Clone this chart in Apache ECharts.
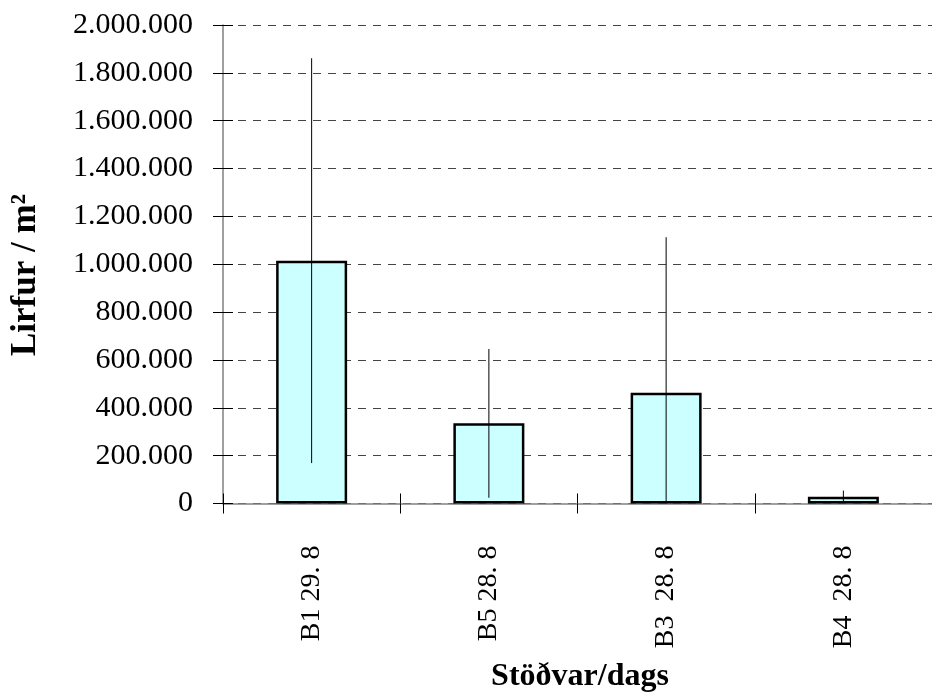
<!DOCTYPE html>
<html>
<head>
<meta charset="utf-8">
<script src="https://cdn.jsdelivr.net/npm/echarts@6/dist/echarts.min.js"></script>
<style>
html,body{margin:0;padding:0;background:#fff;}
#chart{width:932px;height:696px;}
</style>
</head>
<body>
<div id="chart"></div>
<script>
const categories = ['B1 29. 8', 'B5 28. 8', 'B3  28. 8', 'B4  28. 8'];
const values = [1015000, 335000, 463000, 28000];
const errors = [846000, 311000, 650000, 26000];
const yMin = 0, yMax = 2000000, yStep = 200000;
const xTitle = 'Stöðvar/dags';
const yTitle = 'Lirfur / m²';

const FONT = "'Liberation Serif', 'Times New Roman', serif";

function fmt(v) {
  return String(Math.round(v)).replace(/\B(?=(\d{3})+(?!\d))/g, '.');
}

const errData = categories.map((c, i) => [i, Math.max(0, values[i] - errors[i]), values[i] + errors[i]]);

const chart = echarts.init(document.getElementById('chart'), null, {renderer: 'canvas'});
const option = {
  backgroundColor: '#fff',
  animation: false,
  grid: {left: 223, top: 25, width: 714, height: 478.5, containLabel: false},
  xAxis: [{
    type: 'category',
    data: categories,
    position: 'bottom',
    axisLine: {show: true, lineStyle: {color: '#808080', width: 1.5}},
    axisTick: {show: true, inside: false, length: 10, lineStyle: {color: '#000', width: 1}},
    axisLabel: {rotate: 90, margin: 42, fontFamily: FONT, fontSize: 28, color: '#000'},
    splitLine: {show: false}
  }, {
    type: 'category',
    data: categories,
    position: 'bottom',
    axisLine: {show: false},
    axisTick: {show: true, inside: true, length: 10, lineStyle: {color: '#000', width: 1}},
    axisLabel: {show: false},
    splitLine: {show: false}
  }],
  yAxis: [{
    type: 'value',
    min: yMin, max: yMax, interval: yStep,
    position: 'left',
    axisLine: {show: true, lineStyle: {color: '#808080', width: 1.5}},
    axisTick: {show: true, inside: false, length: 10, lineStyle: {color: '#000', width: 1}},
    axisLabel: {margin: 30, fontFamily: FONT, fontSize: 30, color: '#000', formatter: fmt},
    splitLine: {show: true, lineStyle: {color: '#444', width: 1, type: [8, 7]}}
  }, {
    type: 'value',
    min: yMin, max: yMax, interval: yStep,
    position: 'left',
    axisLine: {show: false},
    axisTick: {show: true, inside: true, length: 10, lineStyle: {color: '#000', width: 1}},
    axisLabel: {show: false},
    splitLine: {show: false}
  }],
  graphic: [{
    type: 'text',
    x: 26, y: 275,
    rotation: Math.PI / 2,
    style: {text: yTitle, font: "bold 35px " + FONT, fill: '#000', textAlign: 'center', textVerticalAlign: 'middle'}
  }, {
    type: 'text',
    x: 580, y: 677,
    style: {text: xTitle, font: "bold 32px " + FONT, fill: '#000', textAlign: 'center', textVerticalAlign: 'middle'}
  }],
  series: [{
    type: 'bar',
    data: values,
    barWidth: 71,
    itemStyle: {color: '#CCFFFF', borderColor: '#000', borderWidth: 2.5}
  }, {
    type: 'custom',
    data: errData,
    encode: {x: 0, y: [1, 2]},
    renderItem: function (params, api) {
      const x = api.value(0);
      const p1 = api.coord([x, api.value(1)]);
      const p2 = api.coord([x, api.value(2)]);
      return {
        type: 'line',
        shape: {x1: p1[0], y1: p1[1], x2: p2[0], y2: p2[1]},
        style: {stroke: '#000', lineWidth: 1}
      };
    },
    z: 5
  }]
};
chart.setOption(option);
</script>
</body>
</html>
